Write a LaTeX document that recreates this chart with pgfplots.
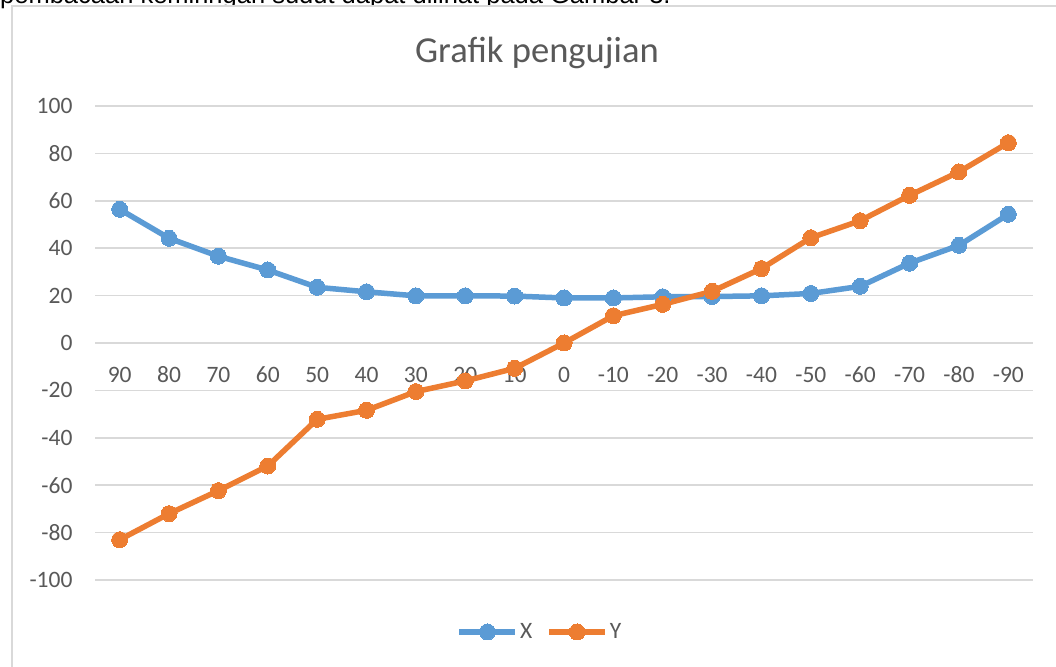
\documentclass[border=0pt]{standalone}
\usepackage{fontspec}
\setmainfont{Carlito}
\newfontfamily\arialfont{Liberation Sans}
\usepackage{pgfplots}
\pgfplotsset{compat=1.18}
\definecolor{cblue}{HTML}{5B9BD5}
\definecolor{corange}{HTML}{ED7D31}
\definecolor{ctext}{HTML}{595959}
\definecolor{cgrid}{HTML}{D9D9D9}
\begin{document}
\begin{tikzpicture}
\useasboundingbox (0pt,0pt) rectangle (1056pt,666pt);
\clip (0pt,0pt) rectangle (1056pt,666pt);
\node[anchor=base west, inner sep=0pt, font=\arialfont\fontsize{25.5}{30}\selectfont] at (0pt,662pt) {pembacaan kemiringan sudut dapat dilihat pada Gambar 3.};
\draw[cgrid, line width=1.5pt, fill=white] (12pt,-10pt) rectangle (1070pt,660pt);
\node[font=\fontsize{36.6}{40}\selectfont, text=ctext] at (537pt,613pt) {Grafik pengujian};
\begin{axis}[
  at={(95pt,86pt)}, anchor=south west, scale only axis,
  width=938pt, height=474pt,
  xmin=-0.5, xmax=18.5, ymin=-100, ymax=100,
  axis x line*=middle, axis y line*=left,
  axis line style={draw=none},
  hide obscured x ticks=false,
  major tick length=0pt,
  xtick={0,...,18},
  xticklabels={90,80,70,60,50,40,30,20,10,0,-10,-20,-30,-40,-50,-60,-70,-80,-90},
  ytick={-100,-80,-60,-40,-20,0,20,40,60,80,100},
  yticklabels={-100,-80,-60,-40,-20,0,20,40,60,80,100},
  ymajorgrids, grid style={cgrid, line width=1.5pt},
  tick label style={font=\fontsize{23.5}{26}\selectfont, text=ctext},
  xticklabel style={text height=15pt, text depth=0pt, yshift=-21pt},
  yticklabel style={xshift=-19pt},
  clip=false,
  legend style={at={(0.4744,-0.1097)}, anchor=center, draw=none, fill=none,
    font=\fontsize{23.5}{26}\selectfont, text=ctext,
    /tikz/every even column/.append style={column sep=12pt},
    nodes={inner sep=2pt}},
  legend columns=2,
  legend cell align=left,
  legend image code/.code={\draw[mark repeat=2,mark phase=2] plot coordinates {(0pt,0pt)(28pt,0pt)(56pt,0pt)};},
  every axis plot/.append style={line width=5.5pt, mark=*, mark size=8pt, mark options={solid}},
]
\addplot[cblue, mark options={fill=cblue, draw=cblue, line width=0pt}] coordinates {
(0,56.4) (1,44.2) (2,36.6) (3,30.8) (4,23.5) (5,21.6) (6,19.9) (7,19.9) (8,19.8) (9,19.0)
(10,19.0) (11,19.5) (12,19.6) (13,19.9) (14,20.9) (15,23.9) (16,33.7) (17,41.2) (18,54.3)};
\addlegendentry{X}
\addplot[corange, mark options={fill=corange, draw=corange, line width=0pt}] coordinates {
(0,-83.0) (1,-72.0) (2,-62.3) (3,-51.9) (4,-32.2) (5,-28.4) (6,-20.5) (7,-16.0) (8,-10.7) (9,0.0)
(10,11.5) (11,16.3) (12,21.8) (13,31.4) (14,44.4) (15,51.6) (16,62.3) (17,72.2) (18,84.5)};
\addlegendentry{Y}
\end{axis}
\end{tikzpicture}
\end{document}
